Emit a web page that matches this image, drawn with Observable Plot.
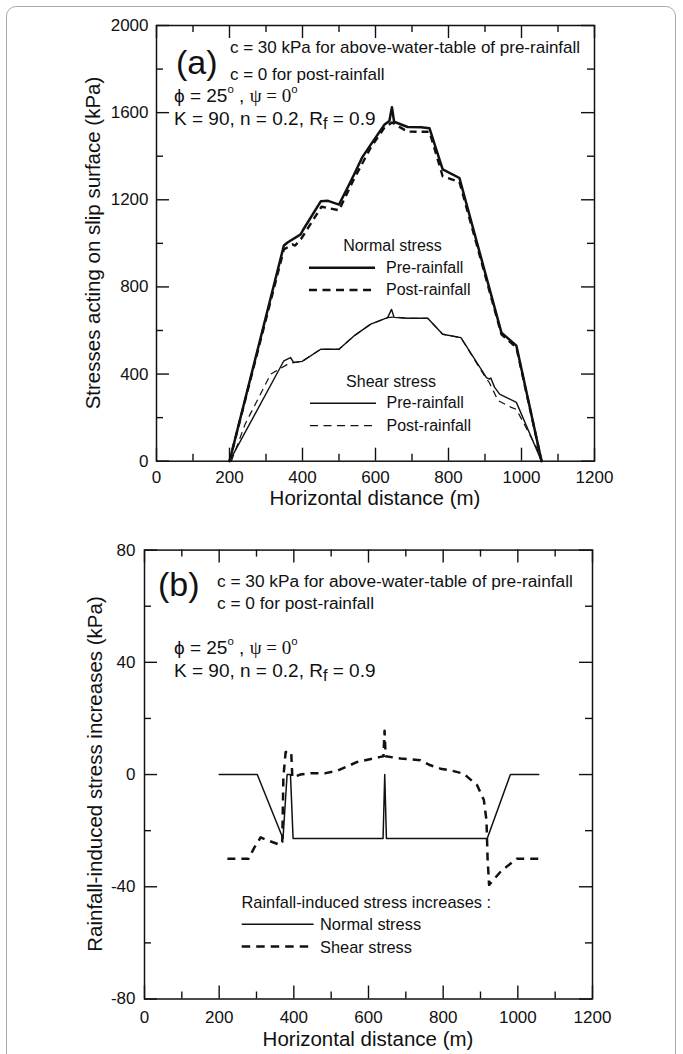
<!DOCTYPE html>
<html>
<head>
<meta charset="utf-8">
<script src="https://cdn.jsdelivr.net/npm/d3@7"></script>
<script src="https://cdn.jsdelivr.net/npm/@observablehq/plot@0.6"></script>
<style>
  html, body { margin: 0; padding: 0; background: #fff; }
  #wrap { position: relative; width: 683px; height: 1054px; overflow: hidden;
          font-family: "Liberation Sans", Arial, Helvetica, sans-serif; color: #111; }
  .abs { position: absolute; white-space: nowrap; line-height: 1; }
  .sup { font-size: 0.6em; vertical-align: 0.75em; line-height: 0; }
  .sub { font-size: 0.85em; vertical-align: -0.25em; line-height: 0; }
  .serif { font-family: "Liberation Serif", "Times New Roman", serif; }
  .panel { position: absolute; left: 0; }
</style>
</head>
<body>
<div id="wrap"></div>
<script>
// ---------------- data ----------------
const xMajor = [0, 200, 400, 600, 800, 1000, 1200];
const xMinor = [100, 300, 500, 700, 900, 1100];
const yMajorA = [0, 400, 800, 1200, 1600, 2000];
const yMinorA = [200, 600, 1000, 1400, 1800];
const yMajorB = [-80, -40, 0, 40, 80];
const yMinorB = [-60, -20, 20, 60];

// (a) normal stress, pre-rainfall
const normalPreX = [200, 349, 360, 395, 401, 450, 470, 500, 523, 541, 564, 587, 624, 638, 645, 651, 688, 725, 748, 784, 830, 945, 986, 1055];
const normalPreY = [0, 990, 1005, 1041, 1060, 1193, 1195, 1178, 1254, 1315, 1396, 1453, 1544, 1562, 1625, 1558, 1534, 1533, 1528, 1340, 1300, 590, 530, 0];
// (a) normal stress, post-rainfall
const normalPostX = [200, 349, 372, 380, 398, 452, 500, 541, 587, 624, 645, 660, 688, 748, 784, 830, 945, 986, 1055];
const normalPostY = [0, 972, 995, 990, 1025, 1168, 1152, 1295, 1440, 1530, 1555, 1540, 1513, 1512, 1308, 1282, 582, 522, 0];
// (a) shear stress, pre-rainfall
const shearPreX = [200, 349, 367, 376, 399, 450, 500, 541, 587, 633, 644, 651, 688, 743, 784, 834, 904, 912, 916, 926, 940, 986, 1055];
const shearPreY = [0, 461, 476, 453, 458, 514, 514, 575, 629, 659, 697, 660, 656, 656, 583, 567, 384, 377, 382, 340, 308, 270, 0];
// (a) shear stress, post-rainfall
const shearPostX = [205, 243, 313, 362, 376, 399, 450, 500, 541, 587, 633, 651, 688, 743, 784, 834, 900, 912, 936, 972, 986, 1041, 1055];
const shearPostY = [0, 171, 400, 448, 453, 458, 514, 514, 575, 629, 659, 662, 656, 656, 583, 567, 388, 360, 278, 247, 238, 64, 0];

// (b) rainfall-induced increases
const incNormalX = [200, 302, 371, 382, 391, 398, 639, 643.5, 648, 918, 980, 1056];
const incNormalY = [0, 0, -22.8, 0, 0, -22.8, -22.8, 0, -22.8, -22.8, 0, 0];
const incShearX = [222, 279, 293, 311, 329, 364, 369, 372, 378, 393, 396, 418, 445, 485, 516, 570, 632, 640, 643, 646, 686, 739, 766, 793, 820, 855, 891, 909, 916, 919, 923, 956, 997, 1056];
const incShearY = [-30, -30, -26.3, -22.4, -23.4, -25.1, -24, -1, 8, 8, -1, 0, 0.5, 0.5, 1.3, 4.5, 6.3, 6.5, 15.6, 6.5, 5.7, 5.1, 3.3, 2.1, 1.5, 0.3, -3.8, -9.1, -16.3, -30, -39.3, -34.3, -30, -30];

// ---------------- helpers ----------------
const INK = "#111";
const FONT = '"Liberation Sans", Arial, Helvetica, sans-serif';
const wrap = document.getElementById("wrap");
const pts = (xs, ys) => xs.map((x, i) => ({x, y: ys[i]}));

function panel(o) {
  const fw = o.width - o.ml - o.mr, fh = o.height - o.mt - o.mb;
  const MAJ = 13, MIN = 7, sw = 1.4;
  const marks = [
    Plot.tickX(o.xMaj, {x: d => d, insetTop: fh - MAJ, stroke: INK, strokeWidth: sw}),
    Plot.tickX(o.xMaj, {x: d => d, insetBottom: fh - MAJ, stroke: INK, strokeWidth: sw}),
    Plot.tickX(o.xMin, {x: d => d, insetTop: fh - MIN, stroke: INK, strokeWidth: sw}),
    Plot.tickX(o.xMin, {x: d => d, insetBottom: fh - MIN, stroke: INK, strokeWidth: sw}),
    Plot.tickY(o.yMaj, {y: d => d, insetRight: fw - MAJ, stroke: INK, strokeWidth: sw}),
    Plot.tickY(o.yMaj, {y: d => d, insetLeft: fw - MAJ, stroke: INK, strokeWidth: sw}),
    Plot.tickY(o.yMin, {y: d => d, insetRight: fw - MIN, stroke: INK, strokeWidth: sw}),
    Plot.tickY(o.yMin, {y: d => d, insetLeft: fw - MIN, stroke: INK, strokeWidth: sw}),
    Plot.axisX({ticks: o.xMaj, tickSize: 0, tickPadding: o.xPad, tickFormat: d => String(d), fontSize: 17, label: null}),
    Plot.axisY({ticks: o.yMaj, tickSize: 0, tickPadding: o.yPad, tickFormat: d => String(d), fontSize: 17, label: null}),
    ...o.lines,
    Plot.frame({stroke: INK, strokeWidth: 1.5})
  ];
  const svg = Plot.plot({
    width: o.width, height: o.height,
    marginTop: o.mt, marginBottom: o.mb, marginLeft: o.ml, marginRight: o.mr,
    x: {domain: o.xDom},
    y: {domain: o.yDom},
    style: {fontFamily: FONT, fontSize: "17px", color: INK, background: "transparent", overflow: "visible"},
    marks
  });
  const holder = document.createElement("div");
  holder.className = "panel";
  holder.style.top = o.top + "px";
  holder.appendChild(svg);
  wrap.appendChild(holder);
}

function text(html, x, baseline, size, opts = {}) {
  const d = document.createElement("div");
  d.className = "abs";
  d.innerHTML = html;
  d.style.fontSize = size + "px";
  d.style.left = x + "px";
  d.style.top = (baseline - 0.8465 * size) + "px";
  if (opts.anchor === "middle") d.style.transform = "translateX(-50%)";
  wrap.appendChild(d);
  return d;
}
function ytitle(str, cx, cy, size) {
  const d = document.createElement("div");
  d.className = "abs";
  d.textContent = str;
  d.style.fontSize = size + "px";
  d.style.left = cx + "px";
  d.style.top = cy + "px";
  d.style.transform = "translate(-50%,-50%) rotate(-90deg)";
  wrap.appendChild(d);
}

// outer rounded border
const border = document.createElement("div");
border.style.cssText = "position:absolute;left:6px;top:6px;width:670px;height:1120px;border:1.5px solid #aaa;border-radius:10px;box-sizing:border-box;";
wrap.appendChild(border);

// ---------------- panel (a) ----------------
panel({
  top: 0, width: 683, height: 520, mt: 25, mb: 59.3, ml: 156, mr: 89,
  xDom: [0, 1200], yDom: [0, 2000],
  xMaj: xMajor, xMin: xMinor, yMaj: yMajorA, yMin: yMinorA,
  xPad: 10, yPad: 8,
  lines: [
    Plot.line(pts(shearPostX, shearPostY), {x: "x", y: "y", stroke: INK, strokeWidth: 1.2, strokeDasharray: "7,5", strokeLinecap: "butt"}),
    Plot.line(pts(shearPreX, shearPreY), {x: "x", y: "y", stroke: INK, strokeWidth: 1.4}),
    Plot.line(pts(normalPostX, normalPostY), {x: "x", y: "y", stroke: INK, strokeWidth: 2.4, strokeDasharray: "7,5", strokeLinecap: "butt"}),
    Plot.line(pts(normalPreX, normalPreY), {x: "x", y: "y", stroke: INK, strokeWidth: 2.5})
  ]
});

// ---------------- panel (b) ----------------
panel({
  top: 520, width: 683, height: 534, mt: 29.6, mb: 55.5, ml: 144, mr: 91,
  xDom: [0, 1200], yDom: [-80, 80],
  xMaj: xMajor, xMin: xMinor, yMaj: yMajorB, yMin: yMinorB,
  xPad: 12, yPad: 9,
  lines: [
    Plot.line(pts(incNormalX, incNormalY), {x: "x", y: "y", stroke: INK, strokeWidth: 1.5}),
    Plot.line(pts(incShearX, incShearY), {x: "x", y: "y", stroke: INK, strokeWidth: 2.5, strokeDasharray: "8,6", strokeLinecap: "butt"})
  ]
});

// ---------------- axis titles ----------------
ytitle("Stresses acting on slip surface (kPa)", 92.5, 242.5, 20.5);
text("Horizontal distance (m)", 375, 505, 20.5, {anchor: "middle"});
ytitle("Rainfall-induced stress increases (kPa)", 95, 774, 20.5);
text("Horizontal distance (m)", 368, 1046, 20.5, {anchor: "middle"});

// ---------------- annotations ----------------
const phiLine = 'ϕ = 25<span class="sup">o</span> , <span class="serif">ψ = 0</span><span class="sup">o</span>';
const kLine = 'K = 90, n = 0.2, R<span class="sub">f</span> = 0.9';
const cLine1 = "c = 30 kPa for above-water-table of pre-rainfall";
const cLine2 = "c = 0 for post-rainfall";

text("(a)", 176, 74, 34);
text(cLine1, 230, 53, 17);
text(cLine2, 230, 80.5, 17);
text(phiLine, 174, 102, 19);
text(kLine, 174, 125.5, 19);

text("(b)", 158, 596, 34);
text(cLine1, 217, 588, 17.3);
text(cLine2, 217, 610, 17.3);
text(phiLine, 174, 654, 19);
text(kLine, 174, 677, 19);

// ---------------- legends ----------------
text("Normal stress", 392.5, 252, 16, {anchor: "middle"});
text("Pre-rainfall", 386, 273.5, 16);
text("Post-rainfall", 386, 296, 16);
text("Shear stress", 391, 387.5, 16, {anchor: "middle"});
text("Pre-rainfall", 386.5, 409, 16);
text("Post-rainfall", 386.5, 431.5, 16);

text("Rainfall-induced stress increases :", 241.5, 907.5, 16.4);
text("Normal stress", 320, 930, 16.4);
text("Shear stress", 320, 952.5, 16.4);

const leg = d3.select(wrap).append("svg")
  .attr("width", 683).attr("height", 1054)
  .style("position", "absolute").style("left", 0).style("top", 0)
  .style("pointer-events", "none");
const legSamples = [
  {x1: 309, x2: 375, y: 267.7, w: 2.5, dash: null},
  {x1: 309, x2: 375, y: 290, w: 2.4, dash: "8,5.5"},
  {x1: 310, x2: 376, y: 403.3, w: 1.4, dash: null},
  {x1: 310, x2: 376, y: 425.7, w: 1.2, dash: "8,5.5"},
  {x1: 241.7, x2: 313.6, y: 924.3, w: 1.5, dash: null},
  {x1: 241.7, x2: 310, y: 946.4, w: 2.5, dash: "8.5,6"}
];
leg.selectAll("line").data(legSamples).join("line")
  .attr("x1", d => d.x1).attr("x2", d => d.x2)
  .attr("y1", d => d.y).attr("y2", d => d.y)
  .attr("stroke", INK).attr("stroke-width", d => d.w)
  .attr("stroke-dasharray", d => d.dash);
</script>
</body>
</html>
